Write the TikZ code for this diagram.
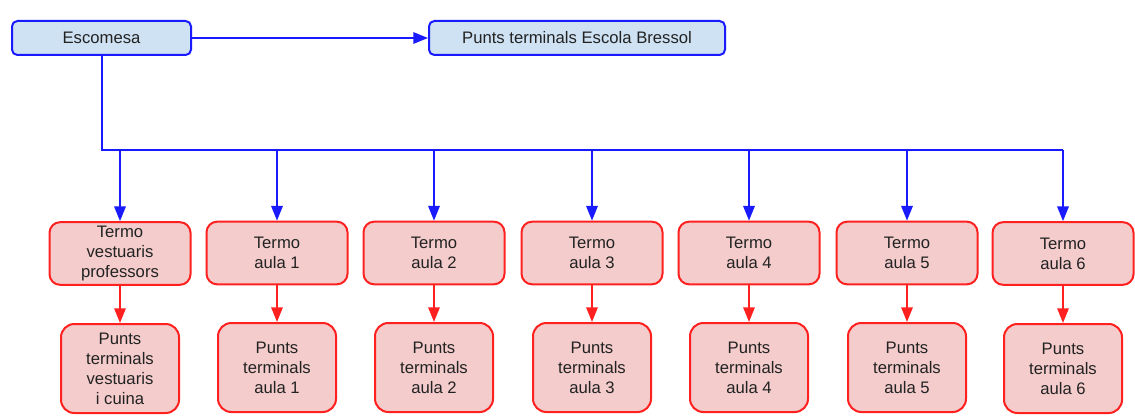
\documentclass[tikz,border=0pt]{standalone}
\usepackage{fontspec}
\setmainfont{Liberation Sans}
\usetikzlibrary{arrows.meta}
\definecolor{bluefill}{HTML}{CFE2F3}
\definecolor{blueline}{HTML}{1A1AFF}
\definecolor{redfill}{HTML}{F4CCCC}
\definecolor{redline}{HTML}{FF2020}
\definecolor{txt}{HTML}{222222}
\tikzset{
  topbox/.style={draw=blueline, fill=bluefill, line width=1.5pt, rounded corners=4pt,
    minimum height=25.5pt, inner sep=0pt, text=txt, align=center,
    font=\fontsize{12.5pt}{15pt}\selectfont},
  termobox/.style={draw=redline, fill=redfill, line width=1.5pt, rounded corners=8pt,
    minimum width=105.75pt, minimum height=47pt, inner sep=0pt, text=txt, align=center,
    font=\fontsize{12.5pt}{15pt}\selectfont},
  puntbox/.style={draw=redline, fill=redfill, line width=1.5pt, rounded corners=10pt,
    minimum width=88.5pt, minimum height=66.75pt, inner sep=0pt, text=txt, align=center,
    font=\fontsize{12.5pt}{15pt}\selectfont},
  bluearrow/.style={draw=blueline, line width=1.5pt, -{Triangle[length=11pt,width=8.5pt]}},
  blueline/.style={draw=blueline, line width=1.5pt},
  redarrow/.style={draw=redline, line width=1.5pt, -{Triangle[length=11pt,width=8.5pt]}},
}
\begin{document}
\begin{tikzpicture}[x=0.75pt,y=-0.75pt]
\useasboundingbox[fill=white] (0,0) rectangle (1135,417);
\node[topbox, minimum width=134.25pt] (esc) at (101.5,38) {Escomesa};
\node[topbox, minimum width=222pt] (pteb) at (577,38) {Punts terminals Escola Bressol};
\draw[bluearrow] (esc.east) -- (pteb.west);

\coordinate (trunk) at (101.5,150);
\node[termobox] (t0) at (120,253.5) {Termo\\vestuaris\\professors};
\node[termobox] (t1) at (277,253) {Termo\\aula 1};
\node[termobox] (t2) at (434,253) {Termo\\aula 2};
\node[termobox] (t3) at (592,253) {Termo\\aula 3};
\node[termobox] (t4) at (749,253) {Termo\\aula 4};
\node[termobox] (t5) at (907,253) {Termo\\aula 5};
\node[termobox] (t6) at (1063,253.5) {Termo\\aula 6};

\node[puntbox] (p0) at (120,368.5) {Punts\\terminals\\vestuaris\\i cuina};
\node[puntbox] (p1) at (277,367.5) {Punts\\terminals\\aula 1};
\node[puntbox] (p2) at (434,367.5) {Punts\\terminals\\aula 2};
\node[puntbox] (p3) at (592,367.5) {Punts\\terminals\\aula 3};
\node[puntbox] (p4) at (749,367.5) {Punts\\terminals\\aula 4};
\node[puntbox] (p5) at (907,367.5) {Punts\\terminals\\aula 5};
\node[puntbox] (p6) at (1063,368.5) {Punts\\terminals\\aula 6};

\coordinate (bend) at (t6.north |- trunk);
\draw[blueline] (esc.south -| trunk) -- (trunk) -- (bend);
\foreach \i in {0,...,6} {
  \draw[bluearrow] (t\i.north |- trunk) -- (t\i.north);
  \draw[redarrow] (t\i.south) -- (p\i.north);
}
\end{tikzpicture}
\end{document}
